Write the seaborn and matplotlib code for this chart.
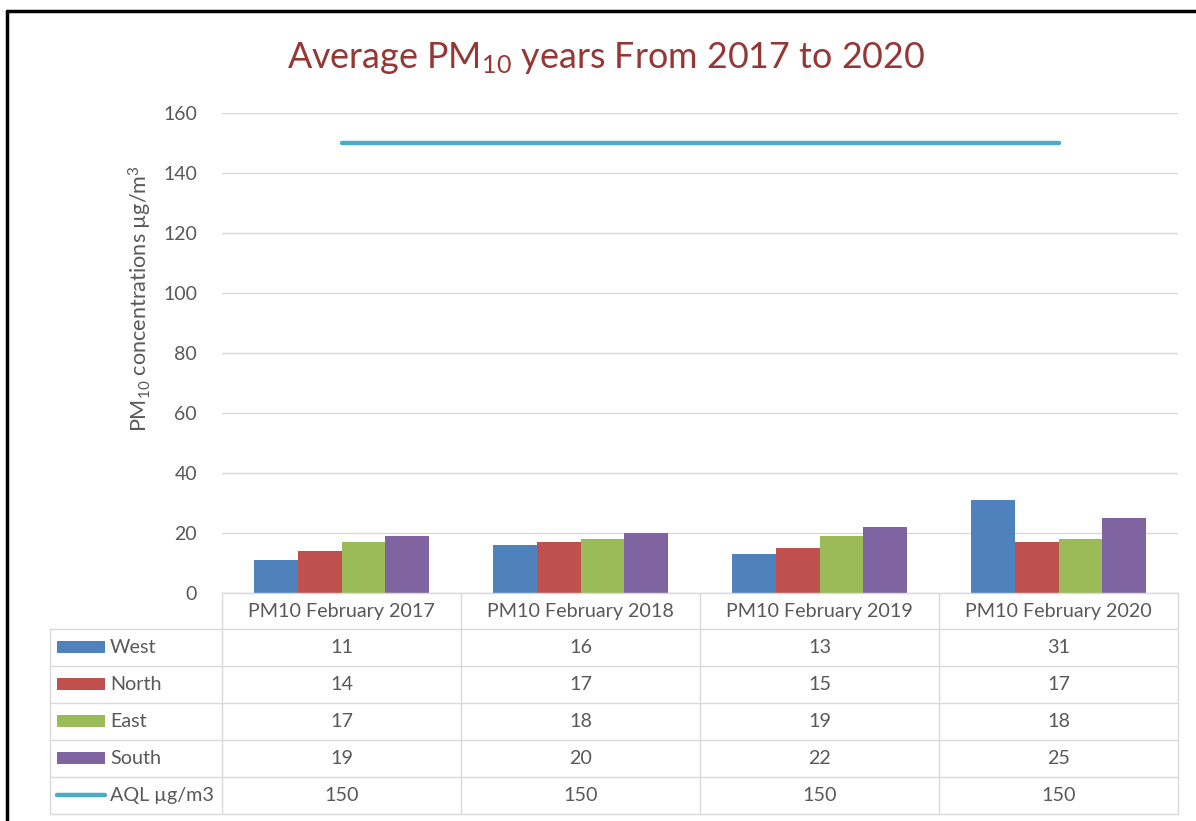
import matplotlib
matplotlib.use('Agg')
import matplotlib.pyplot as plt
import numpy as np
import pandas as pd
import seaborn as sns

categories = ['PM10 February 2017', 'PM10 February 2018', 'PM10 February 2019', 'PM10 February 2020']
west = [11, 16, 13, 31]
north = [14, 17, 15, 17]
east = [17, 18, 19, 18]
south = [19, 20, 22, 25]
aql = [150, 150, 150, 150]
series_names = ['West', 'North', 'East', 'South']
aql_name = 'AQL µg/m3'
y_ticks = [0, 20, 40, 60, 80, 100, 120, 140, 160]

COLORS = {'West': '#4F81BD', 'North': '#C0504D', 'East': '#9BBB59', 'South': '#8064A2'}
AQL_COLOR = '#4BACC6'
TEXT_GREY = '#595959'
GRID_GREY = '#D9D9D9'
FONT = ['Lato', 'DejaVu Sans']

sns.set_style('white')
plt.rcParams['font.family'] = FONT
plt.rcParams['mathtext.fontset'] = 'custom'
plt.rcParams['mathtext.rm'] = 'Lato'
plt.rcParams['mathtext.it'] = 'Lato'

W, H = 1196, 821
fig = plt.figure(figsize=(W / 100, H / 100), dpi=100)

# long-form frame for seaborn
values = {'West': west, 'North': north, 'East': east, 'South': south}
df = pd.DataFrame([(c, s, v) for s in series_names for c, v in zip(categories, values[s])],
                  columns=['category', 'series', 'value'])

x0, x1, y_top, y_bot = 222, 1178, 113, 593
ax = fig.add_axes([x0 / W, 1 - y_bot / H, (x1 - x0) / W, (y_bot - y_top) / H])
sns.barplot(data=df, x='category', y='value', hue='series', order=categories,
            hue_order=series_names, palette=COLORS, width=0.73, linewidth=0,
            saturation=1, legend=False, ax=ax)
sns.lineplot(x=np.arange(len(categories)), y=aql, color=AQL_COLOR, linewidth=3.2,
             solid_capstyle='round', ax=ax)

ax.set_ylim(0, 160)
ax.set_xlim(-0.5, len(categories) - 0.5)
ax.set_yticks(y_ticks)
ax.set_yticklabels([str(t) for t in y_ticks], color=TEXT_GREY, fontsize=14)
ax.tick_params(axis='y', length=0, pad=18)
ax.set_xticks([])
ax.set_xlabel('')
ax.set_ylabel('')
ax.yaxis.grid(True, color=GRID_GREY, linewidth=1)
ax.set_axisbelow(True)
for sp in ax.spines.values():
    sp.set_visible(False)

fig.text(140 / W, 1 - 299 / H, r'PM$_{\mathrm{10}}$ concentrations µg/m$^{\mathrm{3}}$',
         rotation=90, ha='center', va='center', color=TEXT_GREY, fontsize=15.6)
fig.text(606 / W, 1 - 58 / H, r'Average PM$_{\mathrm{10}}$ years From 2017 to 2020',
         ha='center', va='center', color='#953735', fontsize=25.8)

# data table and frame, drawn in pixel coordinates
tab = fig.add_axes([0, 0, 1, 1])
tab.set_xlim(0, W)
tab.set_ylim(H, 0)
tab.axis('off')
tab.patch.set_alpha(0)

col_w = (x1 - x0) / len(categories)
head_top, head_bot = 593, 629
row_h = 37
rows = series_names + [aql_name]
row_vals = [west, north, east, south, aql]
left = 50
bottom = head_bot + row_h * len(rows)

lk = dict(color=GRID_GREY, linewidth=1)
tab.plot([x0, x1], [head_top, head_top], **lk)
for i in range(len(rows) + 1):
    y = head_bot + i * row_h
    tab.plot([left, x1], [y, y], **lk)
for j in range(len(categories) + 1):
    x = x0 + j * col_w
    tab.plot([x, x], [head_top, bottom], **lk)
tab.plot([left, left], [head_bot, bottom], **lk)

for j, c in enumerate(categories):
    tab.text(x0 + (j + 0.5) * col_w, (head_top + head_bot) / 2, c, ha='center', va='center',
             color=TEXT_GREY, fontsize=14.2)

for i, (name, vals) in enumerate(zip(rows, row_vals)):
    yc = head_bot + (i + 0.5) * row_h
    if name in COLORS:
        tab.add_patch(plt.Rectangle((57, yc - 6), 48, 12, color=COLORS[name], linewidth=0))
    else:
        tab.plot([57, 105], [yc, yc], color=AQL_COLOR, linewidth=3.2, solid_capstyle='round')
    tab.text(110, yc, name, ha='left', va='center', color=TEXT_GREY, fontsize=14.2)
    for j, v in enumerate(vals):
        tab.text(x0 + (j + 0.5) * col_w, yc, str(v), ha='center', va='center',
                 color=TEXT_GREY, fontsize=14.2)

# outer frame (top and left edges visible in the original)
tab.plot([7, W], [11, 11], color='black', linewidth=2.5)
tab.plot([7, 7], [11, H], color='black', linewidth=2.5)

fig.savefig('out.png', dpi=100)
plt.close(fig)
